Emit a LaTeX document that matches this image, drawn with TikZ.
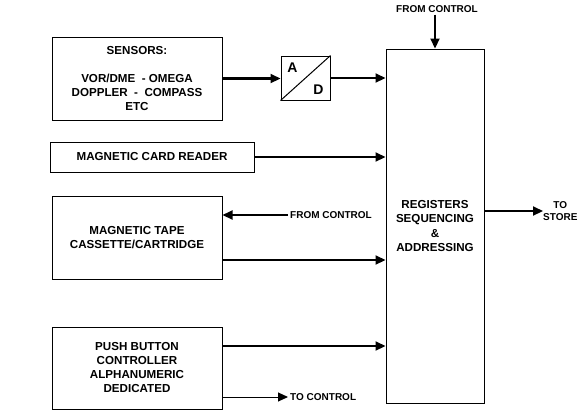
\documentclass[tikz,border=0pt]{standalone}
\usepackage{fontspec}
\setmainfont{Liberation Sans}
\usetikzlibrary{arrows.meta}

\begin{document}
\begin{tikzpicture}[x=1pt,y=-1pt,
  box/.style={draw,line width=1pt,align=center,inner sep=0pt,font=\fontsize{11.6}{14}\selectfont\bfseries},
  lbl/.style={inner sep=2pt,align=center,font=\fontsize{10}{12}\selectfont\bfseries},
  arr/.style={line width=2.2pt,-{Triangle[length=10pt,width=9pt]}},
  thinarr/.style={line width=1pt,-{Triangle[length=10pt,width=9pt]}}]
  \useasboundingbox (0,0) rectangle (579,413);
  % draw input blocks
  \node[box,minimum width=170pt,minimum height=83pt] (sensors) at (137,78.5)
    {SENSORS:\\[14pt]VOR/DME \ - OMEGA\\DOPPLER \ - \ COMPASS\\ETC};
  \node[box,minimum width=204pt,minimum height=30pt] (card) at (152,157) {MAGNETIC CARD READER};
  \node[box,minimum width=170pt,minimum height=83pt] (tape) at (137,237.5) {MAGNETIC TAPE\\CASSETTE/CARTRIDGE};
  \node[box,minimum width=170pt,minimum height=82pt] (push) at (137,368)
    {PUSH BUTTON\\CONTROLLER\\ALPHANUMERIC\\DEDICATED};
  % draw converter
  \node[draw,line width=1pt,minimum width=49pt,minimum height=44pt] (ad) at (305.5,78) {};
  \draw[line width=1pt] (ad.south west) -- (ad.north east);
  \node[font=\fontsize{14}{14}\selectfont\bfseries] (adA) at ([xshift=12pt,yshift=-12pt]ad.north west) {A};
  \node[font=\fontsize{14}{14}\selectfont\bfseries] (adD) at ([xshift=-12pt,yshift=11pt]ad.south east) {D};
  % draw register block
  \node[box,minimum width=98pt,minimum height=354pt,font=\fontsize{11.6}{14.5}\selectfont\bfseries] (reg) at (435,226)
    {REGISTERS\\SEQUENCING\\\&\\ADDRESSING};
  % labels
  \node[lbl] (fcreg) at (437,9) {FROM CONTROL};
  \node[lbl,anchor=west] (fctape) at (288,215) {FROM CONTROL};
  \node[lbl,anchor=west] (tocontrol) at (288,397) {TO CONTROL};
  \node[lbl,anchor=west,inner sep=0pt] (tostore) at (543,211) {TO\\STORE};
  % connectors
  \draw[arr] (fcreg.south -| reg.north) -- (reg.north);
  \draw[arr] (sensors.east) -- (sensors.east -| ad.west);
  \draw[arr] (ad.east) -- (ad.east -| reg.west);
  \draw[arr] (card.east) -- (card.east -| reg.west);
  \draw[arr] (fctape.west) -- (fctape.west -| tape.east);
  \draw[arr] ([yshift=-22.5pt]tape.east) -- ([yshift=-22.5pt]tape.east -| reg.west);
  \draw[arr] ([yshift=22pt]push.east) -- ([yshift=22pt]push.east -| reg.west);
  \draw[thinarr] (tocontrol.west -| push.east) -- (tocontrol.west);
  \draw[arr] (reg.east |- tostore.west) -- (tostore.west);
\end{tikzpicture}
\end{document}
